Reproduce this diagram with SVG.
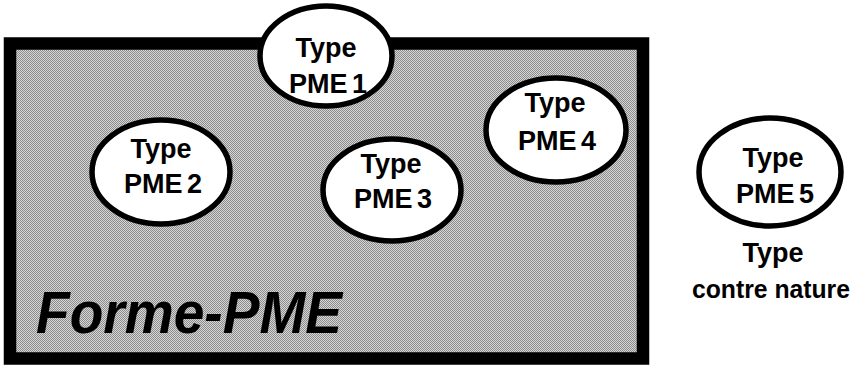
<svg xmlns="http://www.w3.org/2000/svg" width="856" height="366" viewBox="0 0 856 366">
<defs>
<pattern id="ht" width="2" height="2" patternUnits="userSpaceOnUse">
<rect width="2" height="2" fill="#d6d6d6"/>
<rect width="1" height="1" fill="#8c8c8c"/>
<rect x="1" y="1" width="1" height="1" fill="#8c8c8c"/>
</pattern>
<style>
.el{fill:#ffffff;stroke:#000000;stroke-width:5.5}
.t{font-family:"Liberation Sans",Arial,sans-serif;font-weight:bold;font-size:27px;fill:#000000;text-anchor:middle}
.big{font-family:"Liberation Sans",Arial,sans-serif;font-weight:bold;font-style:italic;font-size:60px;fill:#000000}
</style>
</defs>
<rect width="856" height="366" fill="#ffffff"/>
<g id="forme-pme">
<rect x="10" y="43.5" width="633" height="315" fill="url(#ht)" stroke="#000000" stroke-width="12.5"/>
<text class="big" x="36" y="333" textLength="306" lengthAdjust="spacingAndGlyphs">Forme-PME</text>
</g>
<g id="connectors"></g>
<g id="pme1">
<ellipse class="el" cx="326" cy="56" rx="66" ry="50"/>
<text class="t" x="326" y="57">Type</text>
<text class="t" x="328" y="93" word-spacing="-3">PME 1</text>
</g>
<g id="pme2">
<ellipse class="el" cx="161" cy="172" rx="69" ry="52"/>
<text class="t" x="161" y="158">Type</text>
<text class="t" x="163" y="193" word-spacing="-3">PME 2</text>
</g>
<g id="pme3">
<ellipse class="el" cx="392" cy="190" rx="69" ry="51"/>
<text class="t" x="391" y="173">Type</text>
<text class="t" x="393" y="208" word-spacing="-3">PME 3</text>
</g>
<g id="pme4">
<ellipse class="el" cx="556" cy="130" rx="70" ry="52"/>
<text class="t" x="555" y="112">Type</text>
<text class="t" x="557" y="150" word-spacing="-3">PME 4</text>
</g>
<g id="pme5">
<ellipse class="el" cx="770" cy="172" rx="71" ry="54"/>
<text class="t" x="773" y="167">Type</text>
<text class="t" x="775" y="203" word-spacing="-3">PME 5</text>
</g>
<g id="contre-nature">
<text class="t" x="773" y="262">Type</text>
<text class="t" x="771" y="298" style="font-size:25px" textLength="158" lengthAdjust="spacingAndGlyphs">contre nature</text>
</g>
</svg>
